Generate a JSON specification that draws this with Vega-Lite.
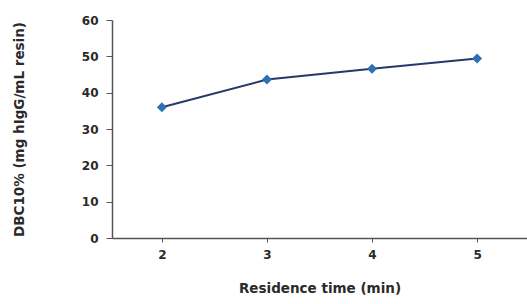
{
  "$schema": "https://vega.github.io/schema/vega-lite/v6.json",
  "autosize": {"type": "none"},
  "width": 415,
  "height": 218,
  "padding": {"left": 112, "top": 20, "right": 0, "bottom": 66},
  "background": "white",
  "config": {
    "view": {"stroke": null},
    "axis": {
      "labelFont": "DejaVu Sans",
      "titleFont": "DejaVu Sans",
      "labelFontWeight": "bold",
      "titleFontWeight": "bold",
      "labelColor": "#2a2a2a",
      "titleColor": "#2a2a2a",
      "domainColor": "#555555",
      "tickColor": "#555555",
      "grid": false
    }
  },
  "data": {
    "values": [
      {"time": 2, "dbc": 36.0},
      {"time": 3, "dbc": 43.6},
      {"time": 4, "dbc": 46.6},
      {"time": 5, "dbc": 49.4}
    ]
  },
  "encoding": {
    "x": {
      "field": "time",
      "type": "ordinal",
      "scale": {"type": "point", "padding": 0.475},
      "axis": {
        "title": "Residence time (min)",
        "labelAngle": 0,
        "labelFontSize": 12,
        "titleFontSize": 13.5,
        "tickSize": 4,
        "labelPadding": 7,
        "titlePadding": 21,
        "domainWidth": 1.5
      }
    },
    "y": {
      "field": "dbc",
      "type": "quantitative",
      "scale": {"domain": [0, 60]},
      "axis": {
        "title": "DBC10% (mg hIgG/mL resin)",
        "values": [0, 10, 20, 30, 40, 50, 60],
        "labelFontSize": 12,
        "titleFontSize": 13.5,
        "tickSize": 6,
        "labelPadding": 8,
        "titlePadding": 55,
        "domainWidth": 1.5
      }
    }
  },
  "layer": [
    {"mark": {"type": "line", "color": "#25396a", "strokeWidth": 2}},
    {"mark": {"type": "point", "shape": "diamond", "filled": true, "color": "#2f6fb5", "size": 100, "opacity": 1}}
  ]
}
